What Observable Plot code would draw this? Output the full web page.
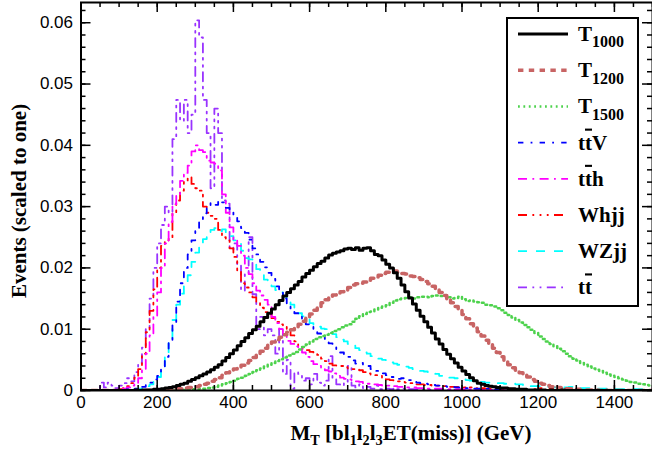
<!DOCTYPE html>
<html><head><meta charset="utf-8">
<script src="https://cdn.jsdelivr.net/npm/d3@7"></script>
<script src="https://cdn.jsdelivr.net/npm/@observablehq/plot@0.6"></script>
<style>body{margin:0;background:#fff}</style>
</head><body><div id="chart"></div>
<script>
// ---- data: normalized histograms, 10 GeV bins, value for bin starting at From + 10*i ----
const binWidth = 10;
const xMax = 1500;
const yMax = 0.0633;
const xTicks = [0, 200, 400, 600, 800, 1000, 1200, 1400];
const yTicks = [0, 0.01, 0.02, 0.03, 0.04, 0.05, 0.06];

const t1000From = 100;
const t1000 = [
0,0,0,0,0.0001,0,0.0001,0.0001,0.0001,0.0002,
0.0002,0.0003,0.0004,0.0005,0.0006,0.0008,0.0010,0.0012,0.0015,0.0018,
0.0021,0.0024,0.0027,0.0030,0.0034,0.0038,0.0042,0.0048,0.0054,0.0060,
0.0066,0.0073,0.0080,0.0086,0.0093,0.0099,0.0105,0.0112,0.0119,0.0126,
0.0133,0.0140,0.0147,0.0154,0.0160,0.0166,0.0172,0.0178,0.0185,0.0191,
0.0196,0.0202,0.0207,0.0211,0.0216,0.0221,0.0224,0.0226,0.0228,0.0231,
0.0232,0.0230,0.0233,0.0229,0.0232,0.0233,0.0228,0.0222,0.0220,0.0213,
0.0206,0.0200,0.0192,0.0183,0.0172,0.0161,0.0151,0.0141,0.0131,0.0121,
0.0112,0.0103,0.0094,0.0084,0.0076,0.0067,0.0059,0.0052,0.0045,0.0038,
0.0032,0.0026,0.0021,0.0016,0.0012,0.0010,0.0008,0.0007,0.0006,0.0005,
0.0004,0.0004,0.0003,0.0003,0.0002,0.0002,0.0002,0.0001,0.0001,0.0001,
0.0001,0.0001,0,0.0001,0,0,0.0001,0,0,0];

const t1200From = 200;
const t1200 = [
0.0001,0.0001,0.0001,0.0002,0.0002,0.0003,0.0003,0.0004,0.0005,0.0005,
0.0006,0.0008,0.0010,0.0012,0.0015,0.0018,0.0021,0.0025,0.0029,0.0032,
0.0035,0.0038,0.0041,0.0045,0.0049,0.0054,0.0059,0.0064,0.0069,0.0074,
0.0079,0.0083,0.0087,0.0091,0.0095,0.0099,0.0104,0.0108,0.0113,0.0119,
0.0125,0.0131,0.0137,0.0143,0.0148,0.0152,0.0156,0.0159,0.0161,0.0163,
0.0168,0.0172,0.0174,0.0175,0.0177,0.0180,0.0183,0.0185,0.0188,0.0191,
0.0193,0.0194,0.0195,0.0193,0.0191,0.0190,0.0187,0.0186,0.0184,0.0181,
0.0178,0.0174,0.0170,0.0166,0.0160,0.0155,0.0149,0.0143,0.0137,0.0131,
0.0124,0.0117,0.0109,0.0102,0.0096,0.0089,0.0082,0.0075,0.0069,0.0062,
0.0055,0.0048,0.0042,0.0037,0.0033,0.0029,0.0026,0.0022,0.0018,0.0015,
0.0012,0.0010,0.0008,0.0006,0.0007,0.0005,0.0004,0.0003,0.0003,0.0002,
0.0002,0.0001,0.0001,0.0001,0.0001,0.0001,0,0.0001,0,0];

const t1500From = 200;
const t1500 = [
0,0,0,0,0,0.0001,0.0001,0.0001,0.0002,0.0002,
0.0002,0.0003,0.0003,0.0004,0.0005,0.0006,0.0008,0.0010,0.0012,0.0014,
0.0016,0.0019,0.0021,0.0024,0.0027,0.0030,0.0033,0.0036,0.0039,0.0042,
0.0045,0.0048,0.0051,0.0054,0.0057,0.0060,0.0063,0.0067,0.0071,0.0075,
0.0080,0.0084,0.0087,0.0089,0.0091,0.0094,0.0097,0.0100,0.0103,0.0106,
0.0108,0.0112,0.0117,0.0121,0.0125,0.0128,0.0129,0.0132,0.0135,0.0137,
0.0139,0.0143,0.0147,0.0149,0.0150,0.0151,0.0152,0.0150,0.0152,0.0153,
0.0153,0.0152,0.0154,0.0155,0.0154,0.0155,0.0152,0.0150,0.0151,0.0153,
0.0149,0.0146,0.0147,0.0145,0.0144,0.0143,0.0140,0.0139,0.0137,0.0134,
0.0131,0.0127,0.0123,0.0119,0.0115,0.0111,0.0107,0.0103,0.0099,0.0094,
0.0088,0.0084,0.0080,0.0076,0.0072,0.0068,0.0064,0.0060,0.0056,0.0052,
0.0049,0.0045,0.0042,0.0039,0.0036,0.0034,0.0032,0.0029,0.0026,0.0024,
0.0022,0.0020,0.0018,0.0016,0.0014,0.0013,0.0011,0.0010,0.0009,0.0008];

const ttvFrom = 100;
const ttv = [
0.0001,0.0001,0.0002,0.0002,0.0003,0.0004,0.0006,0.0009,0.0013,0.0018,
0.0024,0.0035,0.0055,0.0082,0.0110,0.0145,0.0175,0.0200,0.0222,0.0245,
0.0265,0.0278,0.0289,0.0300,0.0306,0.0303,0.0310,0.0307,0.0298,0.0292,
0.0285,0.0276,0.0265,0.0257,0.0246,0.0232,0.0222,0.0210,0.0201,0.0192,
0.0182,0.0170,0.0160,0.0150,0.0141,0.0133,0.0126,0.0120,0.0113,0.0108,
0.0104,0.0100,0.0093,0.0088,0.0082,0.0077,0.0073,0.0067,0.0062,0.0058,
0.0055,0.0049,0.0044,0.0045,0.0041,0.0040,0.0035,0.0032,0.0030,0.0028,
0.0025,0.0022,0.0021,0.0019,0.0020,0.0018,0.0017,0.0015,0.0013,0.0012,
0.0011,0.0010,0.0009,0.0008,0.0008,0.0007,0.0006,0.0006,0.0005,0.0005,
0.0004,0.0004,0.0004,0.0003,0.0003,0.0003,0.0003,0.0002,0.0002,0.0002,
0.0002,0.0002,0.0002,0.0001,0.0002,0.0001,0.0001,0.0001,0.0001,0.0001];

const tthFrom = 0;
const tth = [
0,0,0,0,0,0,0,0,0.0001,0.0001,
0.0002,0.0003,0.0005,0.0008,0.0012,0.0020,0.0035,0.0060,0.0090,0.0120,
0.0160,0.0200,0.0240,0.0275,0.0304,0.0318,0.0342,0.0355,0.0367,0.0390,
0.0400,0.0392,0.0389,0.0375,0.0372,0.0370,0.0359,0.0320,0.0290,0.0266,
0.0245,0.0236,0.0220,0.0200,0.0190,0.0175,0.0163,0.0155,0.0148,0.0140,
0.0120,0.0110,0.0100,0.0090,0.0081,0.0076,0.0072,0.0070,0.0062,0.0055,
0.0048,0.0043,0.0040,0.0036,0.0033,0.0031,0.0028,0.0024,0.0021,0.0019,
0.0018,0.0016,0.0015,0.0014,0.0012,0.0011,0.0010,0.0010,0.0009,0.0008,
0.0008,0.0007,0.0007,0.0006,0.0006,0.0005,0.0005,0.0005,0.0004,0.0004,
0.0004,0.0003,0.0003,0.0003,0.0003,0.0002,0.0002,0.0002,0.0002,0.0002,
0.0002,0.0001,0.0002,0.0001,0.0001,0.0001,0.0001,0.0001,0.0001,0.0001];

const whjjFrom = 0;
const whjj = [
0,0,0,0,0,0,0,0.0001,0.0001,0.0001,
0.0002,0.0004,0.0007,0.0012,0.0021,0.0035,0.0060,0.0095,0.0130,0.0165,
0.0200,0.0236,0.0245,0.0250,0.0290,0.0310,0.0326,0.0342,0.0348,0.0337,
0.0330,0.0326,0.0300,0.0290,0.0285,0.0280,0.0262,0.0250,0.0245,0.0232,
0.0218,0.0195,0.0175,0.0168,0.0160,0.0152,0.0145,0.0135,0.0128,0.0125,
0.0118,0.0112,0.0108,0.0105,0.0100,0.0090,0.0080,0.0072,0.0068,0.0066,
0.0063,0.0062,0.0058,0.0052,0.0048,0.0044,0.0041,0.0040,0.0040,0.0038,
0.0036,0.0035,0.0034,0.0033,0.0030,0.0028,0.0026,0.0025,0.0024,0.0020,
0.0018,0.0017,0.0016,0.0015,0.0014,0.0013,0.0012,0.0011,0.0010,0.0010,
0.0009,0.0009,0.0008,0.0008,0.0008,0.0007,0.0006,0.0006,0.0006,0.0005,
0.0005,0.0004,0.0005,0.0004,0.0003,0.0004,0.0003,0.0003,0.0002,0.0003,
0.0002,0.0002,0.0003,0.0002,0.0002,0.0001,0.0002,0.0001,0.0001,0.0002,
0.0004,0.0001,0.0001,0.0003,0.0001,0.0001,0.0001,0,0.0001,0];

const wzjjFrom = 100;
const wzjj = [
0,0,0,0.0001,0.0002,0.0003,0.0005,0.0007,0.0010,0.0015,
0.0022,0.0035,0.0055,0.0085,0.0115,0.0140,0.0158,0.0170,0.0188,0.0210,
0.0225,0.0238,0.0247,0.0253,0.0262,0.0265,0.0260,0.0263,0.0258,0.0252,
0.0245,0.0240,0.0228,0.0216,0.0214,0.0210,0.0198,0.0190,0.0181,0.0175,
0.0170,0.0164,0.0160,0.0153,0.0148,0.0140,0.0132,0.0126,0.0121,0.0116,
0.0110,0.0107,0.0104,0.0101,0.0100,0.0098,0.0092,0.0087,0.0083,0.0080,
0.0076,0.0073,0.0069,0.0066,0.0062,0.0060,0.0056,0.0055,0.0052,0.0050,
0.0048,0.0046,0.0044,0.0042,0.0041,0.0039,0.0037,0.0035,0.0033,0.0032,
0.0031,0.0030,0.0029,0.0027,0.0024,0.0022,0.0021,0.0021,0.0020,0.0020,
0.0018,0.0017,0.0016,0.0015,0.0014,0.0014,0.0013,0.0013,0.0013,0.0012,
0.0012,0.0011,0.0011,0.0011,0.0010,0.0010,0.0009,0.0008,0.0007,0.0007,
0.0007,0.0006,0.0006,0.0006,0.0005,0.0006,0.0005,0.0005,0.0006,0.0005,
0.0004,0.0004,0.0004,0.0004,0.0003,0.0003,0.0003,0.0003,0.0003,0.0003,
0.0002,0.0002,0.0002,0.0002,0.0002,0.0002,0.0002,0.0002,0.0001,0.0001];

const ttbarFrom = 0;
const ttbar = [
0,0,0,0,0,0.0013,0.0005,0.0013,0.0008,0.0004,
0.0008,0.0012,0.0020,0.0015,0.0030,0.0045,0.0070,0.0100,0.0150,0.0200,
0.0240,0.0270,0.0300,0.0290,0.0410,0.0474,0.0440,0.0474,0.0420,0.0450,
0.0604,0.0576,0.0474,0.0420,0.0330,0.0460,0.0420,0.0310,0.0305,0.0230,
0.0240,0.0206,0.0163,0.0190,0.0250,0.0157,0.0100,0.0120,0.0090,0.0100,
0.0090,0.0060,0.0100,0.0027,0.0050,0.0003,0.0030,0.0027,0.0016,0.0020,
0.0010,0.0027,0.0013,0.0008,0.0016,0.0056,0.0020,0.0010,0.0008,0.0012,
0.0040,0.0008,0.0005,0.0010,0.0004,0.0006,0.0003,0.0008,0.0002,0.0004,
0.0003,0.0002,0.0004,0.0002,0.0003,0.0001,0.0002,0.0002,0.0001,0.0001,
0.0002,0.0001,0.0001,0.0002,0.0001,0,0.0001,0,0.0001,0];

// ---- series styling (ROOT line styles 1..8) ----
const seriesKeys   = ["ttbar","wzjj","whjj","tth","ttv","t1500","t1200","t1000"];
const seriesData   = {t1000:[t1000From,t1000], t1200:[t1200From,t1200], t1500:[t1500From,t1500], ttv:[ttvFrom,ttv], tth:[tthFrom,tth], whjj:[whjjFrom,whjj], wzjj:[wzjjFrom,wzjj], ttbar:[ttbarFrom,ttbar]};
const styles = {
  t1000: {stroke:"#000000", w:3,   dash:null},
  t1200: {stroke:"#c86464", w:3.5, dash:"5.4,5.4"},
  t1500: {stroke:"#4dd24d", w:2.5, dash:"1.8,3.6"},
  ttv:   {stroke:"#0000ff", w:1.8, dash:"5.4,7.2,1.8,7.2"},
  tth:   {stroke:"#ff00ff", w:1.8, dash:"9,5.4,1.8,5.4"},
  whjj:  {stroke:"#ff0000", w:1.8, dash:"9,5.4,1.8,5.4,1.8,5.4,1.8,5.4"},
  wzjj:  {stroke:"#00ffff", w:1.8, dash:"9,9"},
  ttbar: {stroke:"#9933ff", w:1.8, dash:"9,5.4,1.8,5.4,1.8,5.4"}
};
const legendOrder = ["t1000","t1200","t1500","ttv","tth","whjj","wzjj","ttbar"];
const legendLabels = {
  t1000: [["T"],["1000","sub"]],
  t1200: [["T"],["1200","sub"]],
  t1500: [["T"],["1500","sub"]],
  ttv:   [["t"],["t","bar"],["V"]],
  tth:   [["t"],["t","bar"],["h"]],
  whjj:  [["Whjj"]],
  wzjj:  [["WZjj"]],
  ttbar: [["t"],["t","bar"]]
};

const bins = d3.range(0, xMax, binWidth);
function stepRows(from, vals) {
  const rows = bins.map(x => {
    const i = Math.round((x - from) / binWidth);
    return {x, y: (i >= 0 && i < vals.length) ? vals[i] : 0};
  });
  rows.push({x: xMax, y: rows[rows.length - 1].y});
  return rows;
}

const W = 652, H = 451, mt = 2, mb = 61, ml = 80.5, mr = 0;
const yPerPx = yMax / (H - mt - mb);
const xPerPx = xMax / (W - ml - mr);
const xMinor = d3.range(0, xMax + 1, 50);
const yMinor = d3.range(0, 0.0631, 0.002);

const marks = [];
for (const k of seriesKeys) {
  const [from, vals] = seriesData[k];
  const s = styles[k];
  marks.push(Plot.line(stepRows(from, vals), {x:"x", y:"y", curve:"step-after", stroke:s.stroke, strokeWidth:s.w, strokeDasharray:s.dash, clip:true}));
}
// inward ticks on all four sides
marks.push(
  Plot.ruleX(xMinor, {x:d=>d, y1:0, y2:5*yPerPx, stroke:"black", strokeWidth:1.5}),
  Plot.ruleX(xTicks, {x:d=>d, y1:0, y2:10*yPerPx, stroke:"black", strokeWidth:1.5}),
  Plot.ruleX(xMinor, {x:d=>d, y1:yMax, y2:yMax-5*yPerPx, stroke:"black", strokeWidth:1.5}),
  Plot.ruleX(xTicks, {x:d=>d, y1:yMax, y2:yMax-10*yPerPx, stroke:"black", strokeWidth:1.5}),
  Plot.ruleY(yMinor, {y:d=>d, x1:0, x2:5*xPerPx, stroke:"black", strokeWidth:1.5}),
  Plot.ruleY(yTicks, {y:d=>d, x1:0, x2:10*xPerPx, stroke:"black", strokeWidth:1.5}),
  Plot.ruleY(yMinor, {y:d=>d, x1:xMax-5*xPerPx, x2:xMax, stroke:"black", strokeWidth:1.5}),
  Plot.ruleY(yTicks, {y:d=>d, x1:xMax-10*xPerPx, x2:xMax, stroke:"black", strokeWidth:1.5}),
  Plot.frame({stroke:"black", strokeWidth:2})
);

const plot = Plot.plot({
  width: W, height: H,
  marginLeft: ml, marginRight: mr, marginTop: mt, marginBottom: mb,
  style: {fontFamily: "'Liberation Sans', Arial, sans-serif", fontSize: "17px", color: "black", background: "white"},
  x: {domain: [0, xMax], ticks: xTicks, tickSize: 0, tickPadding: 5, label: null, tickFormat: d => String(d)},
  y: {domain: [0, yMax], ticks: yTicks, tickSize: 0, tickPadding: 8, label: null, tickFormat: d => d === 0 ? "0" : d.toFixed(2)},
  marks
});
document.getElementById("chart").appendChild(plot);

// ---- axis titles and legend (ROOT style, serif bold) ----
const svg = d3.select(plot);
const serif = "'Liberation Serif', 'Times New Roman', serif";
function richText(g, parts, size, subScale, subDrop) {
  const t = g.append("text").attr("font-family", serif).attr("font-weight", "bold")
    .attr("font-size", size).attr("fill", "black").attr("text-anchor", "start");
  let shifted = false;
  for (const [s, kind] of parts) {
    const ts = t.append("tspan").text(s);
    if (kind === "sub") { ts.attr("font-size", size * subScale).attr("dy", shifted ? 0 : size * subDrop); shifted = true; }
    else {
      if (shifted) { ts.attr("dy", -size * subDrop); shifted = false; }
      if (kind === "bar") ts.style("text-decoration", "overline");
    }
  }
  return t;
}
const xt = richText(svg.append("g"), [["M"],["T","sub"],[" [bl"],["1","sub"],["l"],["2","sub"],["l"],["3","sub"],["ET(miss)] (GeV)"]], 21, 0.68, 0.24);
xt.attr("x", 411).attr("y", 440).attr("text-anchor", "middle");
const yt = richText(svg.append("g"), [["Events (scaled to one)"]], 21, 0.7, 0.25);
yt.attr("text-anchor", "middle").attr("transform", "translate(26,201) rotate(-90)");

const lg = svg.append("g");
lg.append("rect").attr("x", 507).attr("y", 18).attr("width", 131).attr("height", 288).attr("fill", "white").attr("stroke", "black").attr("stroke-width", 2);
legendOrder.forEach((k, i) => {
  const cy = 34 + i * 36.2;
  const s = styles[k];
  lg.append("line").attr("x1", 518).attr("x2", 568).attr("y1", cy).attr("y2", cy)
    .attr("stroke", s.stroke).attr("stroke-width", s.w).attr("stroke-dasharray", s.dash);
  richText(lg, legendLabels[k], 21, 0.76, 0.3).attr("x", 578).attr("y", cy + 7);
});
</script>
</body></html>
